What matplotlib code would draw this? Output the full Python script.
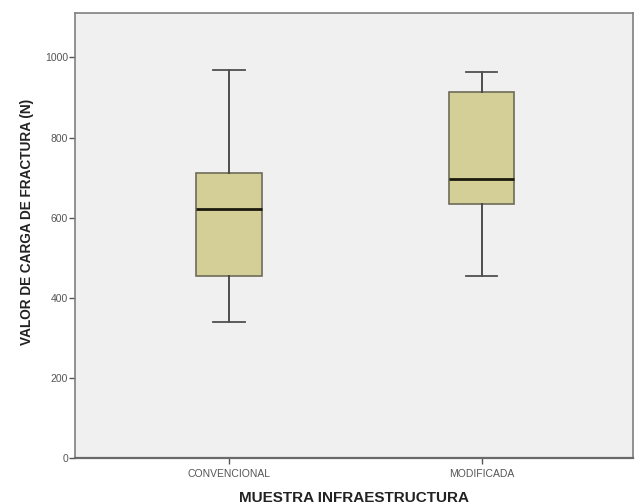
import matplotlib
matplotlib.use('Agg')
import matplotlib.pyplot as plt

plt.rcParams['font.family'] = ['Liberation Sans', 'DejaVu Sans']

# resumen de cada grupo (N)
grupos = ['CONVENCIONAL', 'MODIFICADA']
minimos = [341, 455]
q1 = [455, 634]
medianas = [621, 697]
q3 = [711, 913]
maximos = [968, 963]

stats = []
for i in range(len(grupos)):
    stats.append({'label': grupos[i], 'whislo': minimos[i], 'q1': q1[i],
                  'med': medianas[i], 'q3': q3[i], 'whishi': maximos[i],
                  'fliers': []})

fig = plt.figure(figsize=(6.35, 5.03), dpi=100)
ax = fig.add_axes([75 / 635, (503 - 458.3) / 503, (633 - 75) / 635, (458.3 - 13) / 503])
ax.set_facecolor('#f0f0f0')

ax.bxp(stats, positions=[0, 1], widths=0.258, patch_artist=True,
       boxprops=dict(facecolor='#d3cf97', edgecolor='#6e6c58', linewidth=1.2),
       medianprops=dict(color='#1c1a0c', linewidth=2),
       whiskerprops=dict(color='#404040', linewidth=1.3),
       capprops=dict(color='#505050', linewidth=1.3),
       capwidths=0.126)

ax.set_xlim(-0.61, 1.60)
ax.set_ylim(0, 1111)
ax.set_yticks([0, 200, 400, 600, 800, 1000])
ax.set_xticks([0, 1])
ax.set_xticklabels(grupos)

for s in ax.spines.values():
    s.set_color('#808080')
    s.set_linewidth(1.2)
ax.spines['bottom'].set_color('#6a6a6a')
ax.spines['bottom'].set_linewidth(1.6)

ax.tick_params(axis='both', labelsize=7.5, colors='#555555', length=4, width=1)
ax.tick_params(axis='y', pad=1)
ax.tick_params(axis='x', pad=4)

ax.set_ylabel('VALOR DE CARGA DE FRACTURA (N)', fontsize=9.8, fontweight='bold',
              color='#222222')
ax.yaxis.set_label_coords(-0.073, 0.531)
ax.set_xlabel('MUESTRA INFRAESTRUCTURA', fontsize=11, fontweight='bold',
              color='#222222', labelpad=8)

fig.savefig('out.png', dpi=100)
